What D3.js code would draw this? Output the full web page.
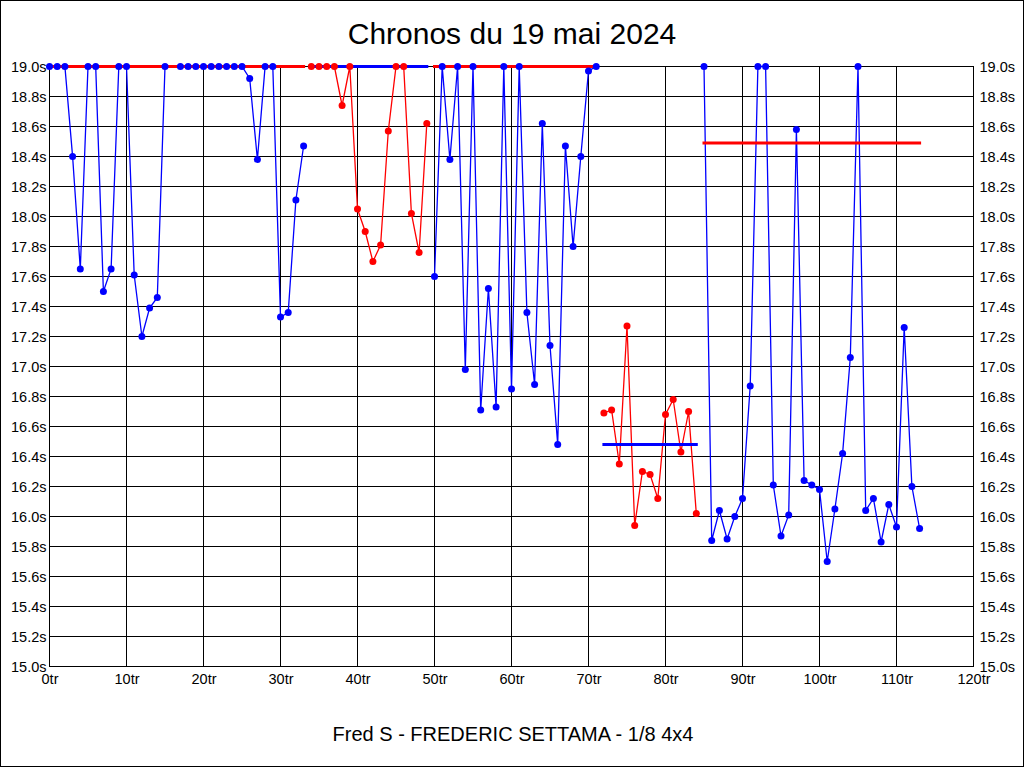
<!DOCTYPE html>
<html>
<head>
<meta charset="utf-8">
<script src="https://cdn.jsdelivr.net/npm/d3@7"></script>
<style>
  html, body { margin: 0; padding: 0; background: #fff; }
  svg { display: block; }
  text { font-family: "Liberation Sans", Arial, sans-serif; fill: #000; }
</style>
</head>
<body>
<svg id="chart" width="1024" height="768"></svg>
<script>
// ---- data ----
const titleText = "Chronos du 19 mai 2024";
const footerText = "Fred S - FREDERIC SETTAMA - 1/8 4x4";

const xTicks = [0, 10, 20, 30, 40, 50, 60, 70, 80, 90, 100, 110, 120];
const yTicks = [15.0, 15.2, 15.4, 15.6, 15.8, 16.0, 16.2, 16.4, 16.6, 16.8, 17.0, 17.2, 17.4, 17.6, 17.8, 18.0, 18.2, 18.4, 18.6, 18.8, 19.0];

const run1Laps  = [0, 1, 2, 3, 4, 5, 6, 7, 8, 9, 10, 11, 12, 13, 14, 15, 17, 18, 19, 20, 21, 22, 23, 24, 25, 26, 27, 28, 29, 30, 31, 32, 33];
const run1Times = [19.0, 19.0, 19.0, 18.40, 17.65, 19.0, 19.0, 17.50, 17.65, 19.0, 19.0, 17.61, 17.20, 17.39, 17.46, 19.0, 19.0, 19.0, 19.0, 19.0, 19.0, 19.0, 19.0, 19.0, 19.0, 18.92, 18.38, 19.0, 19.0, 17.33, 17.36, 18.11, 18.47];

const run2Laps  = [34, 35, 36, 37, 38, 39, 40, 41, 42, 43, 44, 45, 46, 47, 48, 49];
const run2Times = [19.0, 19.0, 19.0, 19.0, 18.74, 19.0, 18.05, 17.90, 17.70, 17.81, 18.57, 19.0, 19.0, 18.02, 17.76, 18.62];

const run3Laps  = [50, 51, 52, 53, 54, 55, 56, 57, 58, 59, 60, 61, 62, 63, 64, 65, 66, 67, 68, 69, 70, 71];
const run3Times = [17.60, 19.0, 18.38, 19.0, 16.98, 19.0, 16.71, 17.52, 16.73, 19.0, 16.85, 19.0, 17.36, 16.88, 18.62, 17.14, 16.48, 18.47, 17.80, 18.40, 18.97, 19.0];

const run4Laps  = [72, 73, 74, 75, 76, 77, 78, 79, 80, 81, 82, 83, 84];
const run4Times = [16.69, 16.71, 16.35, 17.27, 15.94, 16.30, 16.28, 16.12, 16.68, 16.78, 16.43, 16.70, 16.02];

const run5Laps  = [85, 86, 87, 88, 89, 90, 91, 92, 93, 94, 95, 96, 97, 98, 99, 100, 101, 102, 103, 104, 105, 106, 107, 108, 109, 110, 111, 112, 113];
const run5Times = [19.0, 15.84, 16.04, 15.85, 16.00, 16.12, 16.87, 19.0, 19.0, 16.21, 15.87, 16.01, 18.58, 16.24, 16.21, 16.18, 15.70, 16.05, 16.42, 17.06, 19.0, 16.04, 16.12, 15.83, 16.08, 15.93, 17.26, 16.20, 15.92];

const runColors = ["#0000ff", "#ff0000", "#0000ff", "#ff0000", "#0000ff"];

// average lines (one per run): start lap, end lap, value, colour
const avgStart  = [0, 34, 50, 72, 85];
const avgEnd    = [33, 49, 71, 84, 113];
const avgValues = [19.0, 19.0, 19.0, 16.48, 18.49];
const avgColors = ["#ff0000", "#0000ff", "#ff0000", "#0000ff", "#ff0000"];

// ---- chart ----
const svg = d3.select("#chart");

const x = d3.scaleLinear().domain([0, 120]).range([49.5, 973.5]);
const y = d3.scaleLinear().domain([15.0, 19.0]).range([666.5, 66.5]);

// outer frame
svg.append("rect")
  .attr("x", 0.5).attr("y", 0.5).attr("width", 1023).attr("height", 766)
  .attr("fill", "#fff").attr("stroke", "#000").attr("stroke-width", 1);

// title & footer
svg.append("text").attr("x", 512).attr("y", 44)
  .attr("text-anchor", "middle").style("font-size", "30px").text(titleText);
svg.append("text").attr("x", 513).attr("y", 741)
  .attr("text-anchor", "middle").style("font-size", "20px").text(footerText);

// grid
const grid = svg.append("g");
grid.selectAll("line.h").data(yTicks).join("line")
  .attr("x1", x(0)).attr("x2", x(120))
  .attr("y1", d => y(d)).attr("y2", d => y(d))
  .attr("stroke", "#000").attr("stroke-width", 1).attr("shape-rendering", "crispEdges");
grid.selectAll("line.v").data(xTicks).join("line")
  .attr("class", "v")
  .attr("x1", d => x(d)).attr("x2", d => x(d))
  .attr("y1", y(19.0)).attr("y2", y(15.0))
  .attr("stroke", "#000").attr("stroke-width", 1).attr("shape-rendering", "crispEdges");

// axes (labels only) using d3 axes
const fmtY = d => d3.format(".1f")(d) + "s";
const fmtX = d => d + "tr";

const leftAxis = svg.append("g").attr("transform", `translate(${x(0)},0)`)
  .call(d3.axisLeft(y).tickValues(yTicks).tickFormat(fmtY).tickSize(0).tickPadding(3));
const rightAxis = svg.append("g").attr("transform", `translate(${x(120)},0)`)
  .call(d3.axisRight(y).tickValues(yTicks).tickFormat(fmtY).tickSize(0).tickPadding(6));
const bottomAxis = svg.append("g").attr("transform", `translate(0,${y(15.0)})`)
  .call(d3.axisBottom(x).tickValues(xTicks).tickFormat(fmtX).tickSize(0).tickPadding(7));

[leftAxis, rightAxis, bottomAxis].forEach(g => {
  g.select(".domain").remove();
  g.selectAll("text").style("font-size", "14.5px")
    .style("font-family", '"Liberation Sans", Arial, sans-serif').attr("fill", "#000");
});

// series
const runs = [
  [run1Laps, run1Times],
  [run2Laps, run2Times],
  [run3Laps, run3Times],
  [run4Laps, run4Times],
  [run5Laps, run5Times]
].map((r, i) => ({ color: runColors[i], pts: r[0].map((l, j) => ({ lap: l, t: r[1][j] })) }));

const line = d3.line().x(d => x(d.lap)).y(d => y(d.t));

const linesG = svg.append("g");
runs.forEach(r => {
  linesG.append("path").datum(r.pts)
    .attr("d", line).attr("fill", "none")
    .attr("stroke", r.color).attr("stroke-width", 1.3);
});

// average lines
const avgG = svg.append("g");
avgValues.forEach((v, i) => {
  avgG.append("line")
    .attr("x1", x(avgStart[i])).attr("x2", x(avgEnd[i]))
    .attr("y1", y(v)).attr("y2", y(v))
    .attr("stroke", avgColors[i]).attr("stroke-width", 3)
    .attr("stroke-linecap", "square");
});

// dots
const dotsG = svg.append("g");
runs.forEach(r => {
  dotsG.append("g").selectAll("circle").data(r.pts).join("circle")
    .attr("cx", d => x(d.lap)).attr("cy", d => y(d.t))
    .attr("r", 3.5).attr("fill", r.color);
});
</script>
</body>
</html>
